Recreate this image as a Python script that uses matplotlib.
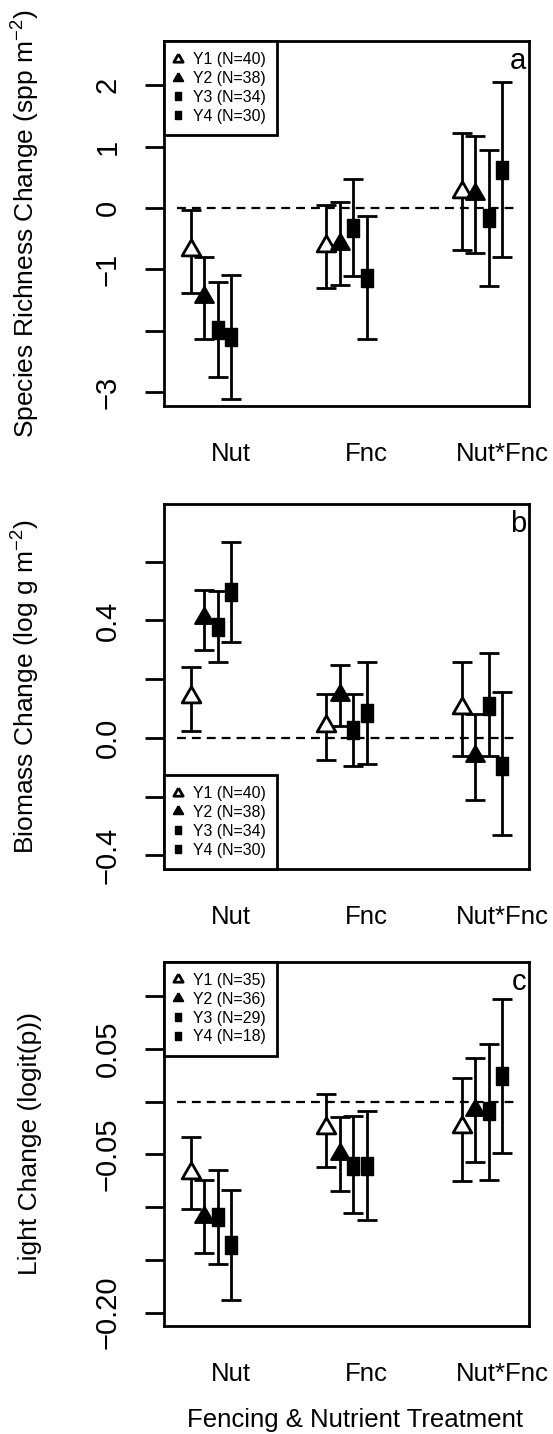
import matplotlib
matplotlib.use('Agg')
import matplotlib.pyplot as plt
import numpy as np

plt.rcParams['font.family'] = ['Liberation Sans', 'DejaVu Sans']
plt.rcParams['mathtext.fontset'] = 'custom'
plt.rcParams['mathtext.rm'] = 'Liberation Sans'
plt.rcParams['mathtext.it'] = 'Liberation Sans:italic'
plt.rcParams['mathtext.bf'] = 'Liberation Sans:bold'

# ---------------- data ----------------
treatments = ['Nut', 'Fnc', 'Nut*Fnc']
treat_pos = [1, 2, 3]
years = ['Y1', 'Y2', 'Y3', 'Y4']
year_offsets = [-0.3, -0.2, -0.1, 0.0]

# Panel a: species richness change, rows = years, cols = treatments
rich_n = [40, 38, 34, 30]
rich_mean = [[-0.68, -0.62, 0.26],
             [-1.45, -0.58, 0.23],
             [-1.99, -0.33, -0.17],
             [-2.11, -1.15, 0.62]]
rich_lo = [[-1.38, -1.31, -0.68],
           [-2.14, -1.26, -0.73],
           [-2.76, -1.11, -1.28],
           [-3.11, -2.14, -0.80]]
rich_hi = [[-0.04, 0.05, 1.22],
           [-0.80, 0.09, 1.18],
           [-1.20, 0.47, 0.95],
           [-1.10, -0.13, 2.06]]

# Panel b: biomass change
bio_n = [40, 38, 34, 30]
bio_mean = [[0.138, 0.042, 0.101],
            [0.407, 0.146, -0.062],
            [0.376, 0.028, 0.110],
            [0.495, 0.084, -0.094]]
bio_lo = [[0.023, -0.075, -0.060],
          [0.299, 0.042, -0.210],
          [0.257, -0.094, -0.060],
          [0.325, -0.088, -0.332]]
bio_hi = [[0.240, 0.150, 0.257],
          [0.503, 0.248, 0.082],
          [0.501, 0.150, 0.288],
          [0.667, 0.257, 0.155]]

# Panel c: light change
light_n = [35, 36, 29, 18]
light_mean = [[-0.068, -0.025, -0.024],
              [-0.109, -0.050, -0.008],
              [-0.109, -0.061, -0.009],
              [-0.136, -0.061, 0.024]]
light_lo = [[-0.102, -0.062, -0.075],
            [-0.144, -0.085, -0.057],
            [-0.154, -0.106, -0.074],
            [-0.188, -0.112, -0.049]]
light_hi = [[-0.034, 0.007, 0.022],
            [-0.074, -0.015, 0.041],
            [-0.065, -0.014, 0.055],
            [-0.084, -0.009, 0.097]]

rich_yticks = [-3, -2, -1, 0, 1, 2]
rich_yticklabels = ['\u22123', '', '\u22121', '0', '1', '2']
bio_yticks = [-0.4, -0.2, 0.0, 0.2, 0.4, 0.6]
bio_yticklabels = ['\u22120.4', '', '0.0', '', '0.4', '']
light_yticks = [-0.20, -0.15, -0.10, -0.05, 0.0, 0.05, 0.10]
light_yticklabels = ['\u22120.20', '', '', '\u22120.05', '', '0.05', '']

ref_line_x = [0.6, 3.1]
ref_line_y = [0, 0]

# ---------------- styles ----------------
tri_verts = [(0, 0.577), (-0.5, -0.289), (0.5, -0.289), (0, 0.577)]
sq_verts = [(-0.37, -0.5), (0.37, -0.5), (0.37, 0.5), (-0.37, 0.5), (-0.37, -0.5)]
marker_styles = [
    dict(marker=tri_verts, ms=15.5, mfc='white', mec='black', mew=2.0),
    dict(marker=tri_verts, ms=15.5, mfc='black', mec='black', mew=1.5),
    dict(marker=sq_verts, ms=12.3, mfc='black', mec='black', mew=1.0),
    dict(marker=sq_verts, ms=12.3, mfc='black', mec='black', mew=1.0),
]

W, H = 553, 1434
fig = plt.figure(figsize=(W / 100, H / 100), dpi=100)
fig.patch.set_facecolor('white')

left_px, right_px = 163.5, 529.3
panel_px = [(41.0, 405.5), (504.0, 869.0), (961.5, 1326.0)]

panels = [
    dict(mean=rich_mean, lo=rich_lo, hi=rich_hi, n=rich_n, ylim=(-3.22, 2.72),
         yticks=rich_yticks, yticklabels=rich_yticklabels,
         ylabel='Species Richness Change (spp m$^{\u22122}$)', letter='a', legloc='upper left'),
    dict(mean=bio_mean, lo=bio_lo, hi=bio_hi, n=bio_n, ylim=(-0.446, 0.796),
         yticks=bio_yticks, yticklabels=bio_yticklabels,
         ylabel='Biomass Change (log g m$^{\u22122}$)', letter='b', legloc='lower left'),
    dict(mean=light_mean, lo=light_lo, hi=light_hi, n=light_n, ylim=(-0.2128, 0.1328),
         yticks=light_yticks, yticklabels=light_yticklabels,
         ylabel='Light Change (logit(p))', letter='c', legloc='upper left'),
]

for i, (p, (top, bot)) in enumerate(zip(panels, panel_px)):
    ax = fig.add_axes([left_px / W, 1 - bot / H, (right_px - left_px) / W, (bot - top) / H])
    ax.plot(ref_line_x, ref_line_y, color='black', lw=1.6, ls=(0, (4, 2.7)), zorder=1)
    handles = []
    for y in range(4):
        xs = np.array(treat_pos) + year_offsets[y]
        m = np.array(p['mean'][y])
        lo = np.array(p['lo'][y])
        hi = np.array(p['hi'][y])
        ax.errorbar(xs, m, yerr=[m - lo, hi - m], fmt='none', ecolor='black',
                    elinewidth=2.0, capsize=7.4, capthick=2.0, zorder=2)
        h, = ax.plot(xs, m, ls='none', zorder=3, **marker_styles[y])
        handles.append(h)
    labels = ['%s (N=%d)' % (years[y], p['n'][y]) for y in range(4)]
    bbox = (0, 1) if p['legloc'] == 'upper left' else (0, 0)
    leg = ax.legend(handles, labels, loc=p['legloc'], bbox_to_anchor=bbox,
                    borderaxespad=0, frameon=True, fancybox=False, framealpha=1,
                    edgecolor='black', fontsize=11.4, markerscale=0.5,
                    handlelength=0.35, handletextpad=0.8, borderpad=0.72,
                    labelspacing=0.24)
    leg.get_frame().set_linewidth(2.0)
    leg.set_zorder(5)

    ax.set_xlim(0.5, 3.2)
    ax.set_ylim(*p['ylim'])
    ax.set_xticks(treat_pos)
    ax.set_xticklabels(treatments)
    ax.tick_params(axis='x', length=0, pad=26.0, labelsize=18.5)
    ax.set_yticks(p['yticks'])
    ax.set_yticklabels(p['yticklabels'], rotation=90, va='center')
    ax.tick_params(axis='y', length=13.7, width=2.0, pad=16.5, labelsize=21)
    for s in ax.spines.values():
        s.set_linewidth(2.0)
    ax.set_ylabel(p['ylabel'], fontsize=19)
    ax.yaxis.set_label_coords(-0.333, 0.5)
    ax.text(0.991, 0.923, p['letter'], transform=ax.transAxes, ha='right',
            va='baseline', fontsize=21)
    if i == 2:
        ax.set_xlabel('Fencing & Nutrient Treatment', fontsize=18.5)
        ax.xaxis.set_label_coords(0.5235, -0.225)

fig.savefig('out.png', dpi=100, facecolor='white')
